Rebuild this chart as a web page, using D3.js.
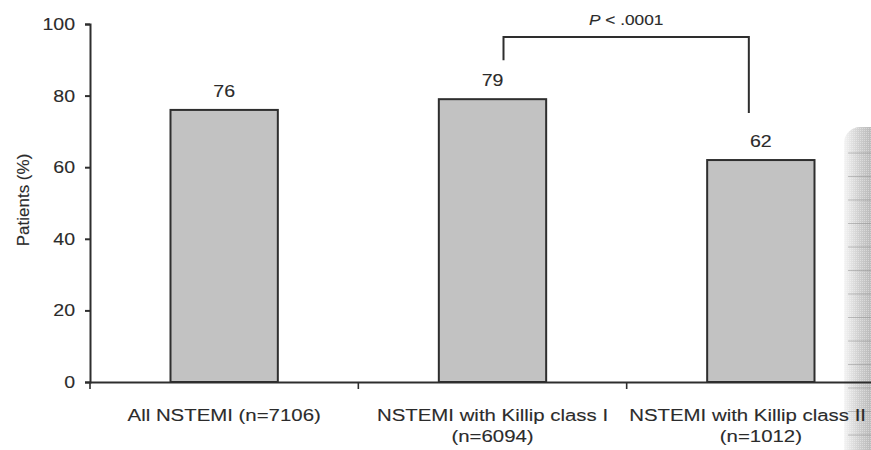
<!DOCTYPE html>
<html>
<head>
<meta charset="utf-8">
<script src="https://cdn.jsdelivr.net/npm/d3@7"></script>
<style>
  html, body { margin: 0; padding: 0; background: #fff; }
  svg { display: block; }
  text { font-family: "Liberation Sans", Arial, sans-serif; fill: #2b2b2b; stroke: #2b2b2b; stroke-width: 0.12px; }
</style>
</head>
<body>
<svg id="chart" width="871" height="450"></svg>
<script>
// Share of NSTEMI patients, by Killip class
const categories = ["All NSTEMI", "Killip I", "Killip II"];
const labelLines = [
  ["All NSTEMI (n=7106)"],
  ["NSTEMI with Killip class I", "(n=6094)"],
  ["NSTEMI with Killip class II", "(n=1012)"]
];
const values = [76, 79, 62];
const yTicks = [0, 20, 40, 60, 80, 100];
const yTitle = "Patients (%)";
const pText = ".0001";

const svg = d3.select("#chart");
const W = 871;
const xRange = [90, 895];
const ink = "#2e2e2e";

// shaded page edge on the right
const defs = svg.append("defs");
const grad = defs.append("linearGradient").attr("id", "edge")
  .attr("x1", 0).attr("x2", 1).attr("y1", 0).attr("y2", 0);
grad.append("stop").attr("offset", "0%").attr("stop-color", "#f4f4f4");
grad.append("stop").attr("offset", "25%").attr("stop-color", "#cfcfcf");
grad.append("stop").attr("offset", "50%").attr("stop-color", "#b4b4b4");
grad.append("stop").attr("offset", "100%").attr("stop-color", "#a8a8a8");
const dots = defs.append("pattern").attr("id", "dots")
  .attr("width", 2).attr("height", 2).attr("patternUnits", "userSpaceOnUse");
dots.append("rect").attr("width", 1).attr("height", 1).attr("fill", "rgba(255,255,255,0.35)");
const edge = svg.append("g");
edge.append("rect").attr("x", 844).attr("y", 127).attr("width", 60).attr("height", 340)
  .attr("rx", 16).attr("fill", "url(#edge)");
edge.append("rect").attr("x", 844).attr("y", 127).attr("width", 60).attr("height", 340)
  .attr("rx", 16).attr("fill", "url(#dots)");
d3.range(153, 450, 23.5).forEach(yy => {
  edge.append("line").attr("x1", 848).attr("x2", 871).attr("y1", yy).attr("y2", yy)
    .attr("stroke", "#8a8a8a").attr("stroke-width", 0.8).attr("opacity", 0.6);
});

const y = d3.scaleLinear().domain([0, 100]).range([382, 24]);
const x = d3.scaleBand().domain(categories).range(xRange).paddingInner(0).paddingOuter(0);
const barW = x.bandwidth() * 0.4;

// text set slightly wide, as in the printed figure
function wideText(g, px, py, str, anchor, size, stretch) {
  return g.append("g").attr("transform", `translate(${px},${py}) scale(${stretch || 1.15},1)`)
    .append("text").attr("text-anchor", anchor || "middle")
    .style("font-size", (size || 17) + "px").text(str);
}

// bars
svg.append("g").selectAll("rect").data(values).join("rect")
  .attr("x", (d, i) => x(categories[i]) + (x.bandwidth() - barW) / 2)
  .attr("y", d => y(d))
  .attr("width", barW)
  .attr("height", d => y(0) - y(d))
  .attr("fill", "#c2c2c2")
  .attr("stroke", ink).attr("stroke-width", 2);

// value labels
const vl = svg.append("g");
values.forEach((v, i) => {
  wideText(vl, x(categories[i]) + x.bandwidth() / 2, y(v) - 13, String(v));
});

// y axis
const yAxis = svg.append("g").attr("transform", "translate(90,0)")
  .call(d3.axisLeft(y).tickValues(yTicks).tickSize(5).tickFormat(""));
yAxis.select(".domain").attr("stroke", ink).attr("stroke-width", 2);
yAxis.selectAll(".tick line").attr("stroke", ink).attr("stroke-width", 2);
const yl = svg.append("g");
yTicks.forEach(t => wideText(yl, 75, y(t) + 6, String(t), "end"));

// y title
svg.append("text")
  .attr("transform", `translate(29,${(y(0) + y(100)) / 2 - 3}) rotate(-90)`)
  .attr("text-anchor", "middle").style("font-size", "17px").text(yTitle);

// x axis
const xAxis = svg.append("g").attr("transform", `translate(0,${y(0)})`)
  .call(d3.axisBottom(x).tickSize(0).tickFormat(""));
xAxis.select(".domain").attr("stroke", ink).attr("stroke-width", 2);
const xt = svg.append("g");
categories.forEach(c => {
  xt.append("line").attr("x1", x(c)).attr("x2", x(c))
    .attr("y1", y(0)).attr("y2", y(0) + 7).attr("stroke", ink).attr("stroke-width", 1.6);
});

// category labels, kept inside the right edge
const xl = svg.append("g");
const catStretch = 1.2;
labelLines.forEach((lines, i) => {
  const cx = x(categories[i]) + x.bandwidth() / 2;
  lines.forEach((ln, j) => {
    const t = wideText(xl, cx, 421 + j * 21, ln, "middle", 17, catStretch);
    const w = t.node().getComputedTextLength() * catStretch;
    const over = cx + w / 2 - (W - 5);
    if (over > 0) t.node().parentNode.setAttribute("transform",
      `translate(${cx - over},${421 + j * 21}) scale(${catStretch},1)`);
  });
});

// significance bracket between the two Killip groups
const b1 = x(categories[1]) + x.bandwidth() / 2 + 11;
const b2 = x(categories[2]) + x.bandwidth() / 2 - 12;
const bTop = 37;
svg.append("path")
  .attr("d", `M${b1},${y(values[1]) - 39}V${bTop}H${b2}V${y(values[2]) - 47}`)
  .attr("fill", "none").attr("stroke", ink).attr("stroke-width", 2);
const pg = svg.append("g")
  .attr("transform", `translate(${(b1 + b2) / 2},25) scale(1.15,1)`)
  .append("text").attr("text-anchor", "middle").style("font-size", "15px");
pg.append("tspan").style("font-style", "italic").text("P");
pg.append("tspan").text(" < " + pText);
</script>
</body>
</html>
